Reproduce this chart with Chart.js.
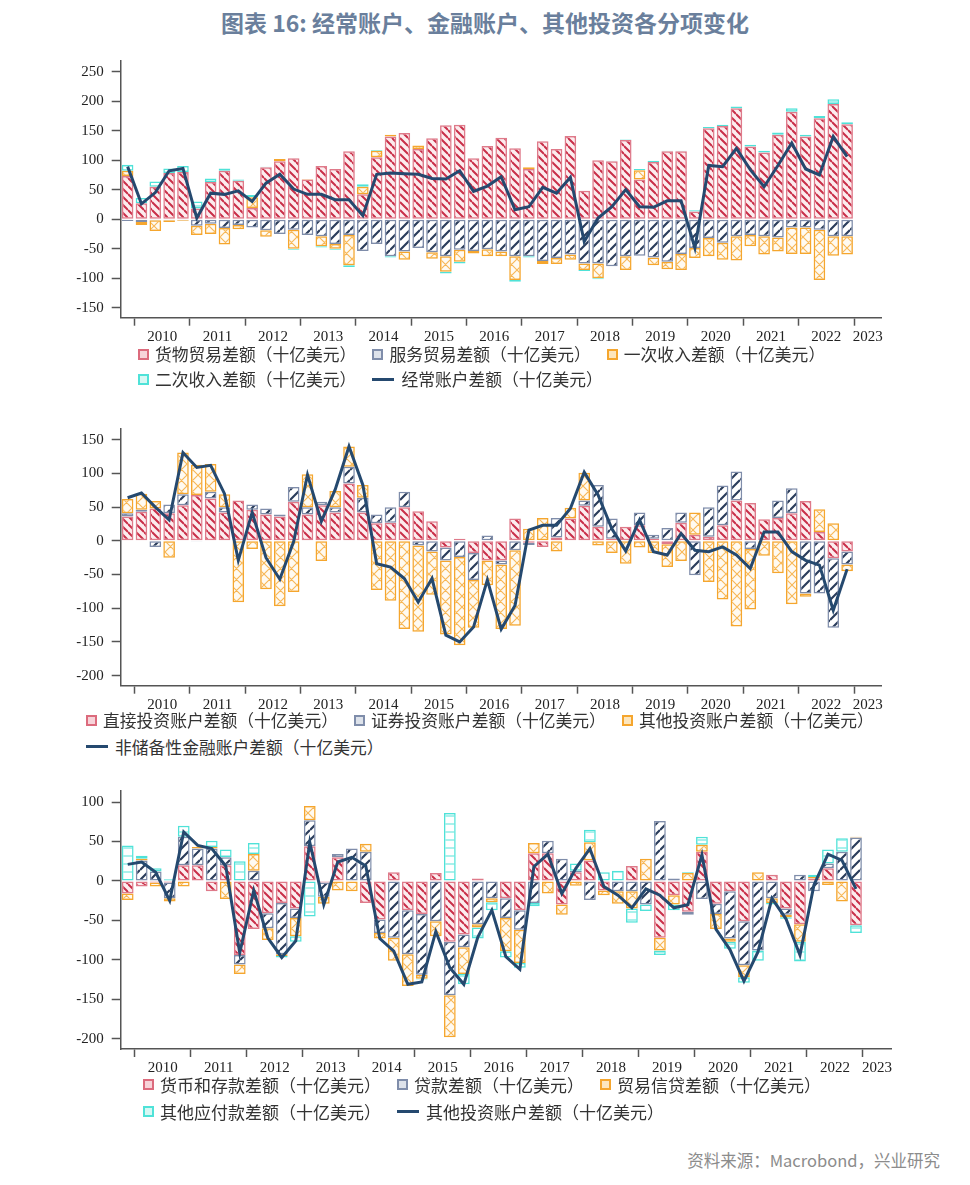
<!DOCTYPE html>
<html>
<head>
<meta charset="utf-8">
<script src="https://cdn.jsdelivr.net/npm/chart.js@4.4.0/dist/chart.umd.min.js"></script>
<style>
  body { margin: 0; width: 970px; height: 1185px; background: #fff; position: relative; overflow: hidden;
         font-family: "Noto Sans CJK SC", "Noto Sans", sans-serif; }
  #title { position: absolute; left: 0; width: 970px; top: 5px; text-align: center;
           font-size: 23px; font-weight: bold; color: #6a7f9c; }
  canvas { position: absolute; left: 0; }
  .legend-row { position: absolute; display: flex; align-items: center; height: 24px;
                font-size: 16.8px; color: #333; white-space: nowrap; }
  .item { display: flex; align-items: center; margin-right: 16px; }
  .sw { width: 11px; height: 11px; box-sizing: border-box; border: 2.5px solid; margin-right: 6px; }
  .ln { width: 22px; height: 3px; margin-right: 7px; }
  #source { position: absolute; right: 30px; top: 1148px; font-size: 16.5px; color: #8c8c8c; }
</style>
</head>
<body>
<div id="title">图表 16: 经常账户、金融账户、其他投资各分项变化</div>
<canvas id="c1" width="970" height="310" style="top:50px"></canvas>
<canvas id="c2" width="970" height="310" style="top:420px"></canvas>
<canvas id="c3" width="970" height="312" style="top:780px"></canvas>
<div id="legends"></div>
<div id="source">资料来源：Macrobond，兴业研究</div>

<script>
// 季度（2009Q4 - 2023Q2，后两个季度无数据）
const quarters = [
  "2009Q4",
  "2010Q1","2010Q2","2010Q3","2010Q4","2011Q1","2011Q2","2011Q3","2011Q4",
  "2012Q1","2012Q2","2012Q3","2012Q4","2013Q1","2013Q2","2013Q3","2013Q4",
  "2014Q1","2014Q2","2014Q3","2014Q4","2015Q1","2015Q2","2015Q3","2015Q4",
  "2016Q1","2016Q2","2016Q3","2016Q4","2017Q1","2017Q2","2017Q3","2017Q4",
  "2018Q1","2018Q2","2018Q3","2018Q4","2019Q1","2019Q2","2019Q3","2019Q4",
  "2020Q1","2020Q2","2020Q3","2020Q4","2021Q1","2021Q2","2021Q3","2021Q4",
  "2022Q1","2022Q2","2022Q3","2022Q4","2023Q1","2023Q2"
];
const yearTicks = ["2010","2011","2012","2013","2014","2015","2016","2017","2018","2019","2020","2021","2022","2023"];

// === 图1：经常账户 ===
const goodsBal = [73,27,55,78,80,18,63,82,65,19, 88,98,103,67,90,85,115,42,105,140,
  146,119,137,159,160,103,124,138,120,85, 132,119,141,48,100,98,134,67,97,115,
  115,13,154,158,188,123,113,143,182,140, 171,195,161];
const servicesBal = [-3,-5,-2,-2,-2,-11,-8,-15,-10,-14, -19,-25,-18,-27,-29,-42,-27,-54,-42,-63,
  -55,-49,-56,-63,-52,-54,-51,-55,-63,-63, -71,-66,-60,-75,-75,-80,-63,-62,-65,-72,
  -59,-49,-32,-40,-29,-27,-29,-31,-14,-14, -18,-29,-29];
const primaryInc = [9,-5,-18,-3,-1,-16,-17,-28,-7,18, -11,4,-32,1,-17,-8,-51,13,11,3,
  -14,6,-11,-26,-20,-4,-12,-8,-40,3, -5,-10,-9,-11,-25,0,-23,16,-13,-13,
  -27,-17,-31,-29,-41,-19,-31,-24,-45,-45, -85,-33,-31];
const secondaryInc = [10,9,9,8,10,12,6,4,2,4, 1,0,-2,0,-2,-2,-3,4,1,-2,
  0,0,0,-3,-3,0,0,0,-3,-2, 0,0,0,-2,-2,1,1,2,2,1,
  1,2,2,2,3,3,3,4,6,3, 4,8,3];
const currentAcct = [89,26,45,82,86,2,44,42,48,30, 61,76,51,42,42,33,33,6,76,78,
  77,76,69,68,82,47,56,72,16,21, 54,44,71,-38,2,21,50,21,20,31,
  31,-49,91,89,120,84,55,91,129,85, 75,140,106];
const yTicks1 = [-150,-100,-50,0,50,100,150,200,250];

// === 图2：金融账户 ===
const directInv = [36,43,48,41,53,68,63,42,60,46, 39,36,58,39,53,42,85,42,26,27,
  50,44,29,-10,3,-18,-29,-29,33,-3, -9,5,33,52,21,3,21,23,3,-5,
  27,9,6,23,60,56,32,34,41,59, 13,-26,-16];
const portfolioInv = [5,3,-9,13,16,-1,10,8,0,8, 9,3,22,11,5,8,25,22,13,23,
  23,-7,-16,-19,-24,-40,8,-6,-14,-3, 0,29,0,8,62,30,0,19,6,19,
  15,-51,44,59,43,-12,0,26,37,-78, -78,-103,-19];
const otherInv = [21,24,11,-25,62,45,41,19,-91,-12, -72,-97,-76,49,-30,24,30,19,-73,-89,
  -131,-128,-64,-110,-131,-71,-37,-96,-112,18, 34,-16,16,41,-7,-18,-34,-10,-18,-34,
  -30,33,-61,-87,-127,-90,-22,-48,-94,-5, 34,26,-10];
const finAcct = [64,71,50,31,131,109,112,70,-29,42, -25,-57,-1,98,29,76,140,83,-34,-39,
  -56,-91,-56,-140,-150,-128,-58,-131,-96,16, 23,23,48,102,68,18,-15,31,-16,-21,
  11,-14,-16,-9,-21,-41,13,13,-16,-29, -36,-103,-42];
const yTicks2 = [-200,-150,-100,-50,0,50,100,150];

// === 图3：其他投资 ===
const currDeposits = [-16,-7,-2,-2,20,20,-13,20,-94,-61, -41,-28,-35,44,-2,30,0,-28,-49,11,
  -37,-42,10,-77,-68,3,0,-22,-37,35, 35,-30,11,26,-12,0,19,0,-72,-18,
  -39,37,-29,-13,-51,0,8,-35,-55,3, 16,0,-56];
const loans = [0,26,12,-20,36,21,41,10,-12,13, -19,-65,-12,33,-18,4,41,37,-17,-72,
  -56,-77,-51,-68,-16,-55,-22,-25,-25,-28, 16,28,2,-24,0,-13,-13,-30,76,3,
  -4,-23,-13,-60,-56,-88,-22,-8,8,-13, 6,37,55];
const tradeCredit = [-8,2,-5,-4,-7,2,2,-23,-12,21, -15,-2,-23,18,-9,-12,-13,10,-7,-29,
  -40,-5,-19,-53,-34,-4,-5,-42,-42,13, -16,-13,-6,23,-6,-16,-22,28,-16,-12,
  10,9,-19,-4,-15,11,-6,-3,-22,2, -5,-26,1];
const otherPayables = [45,4,4,2,14,0,8,10,25,14, 1,-2,-7,-45,0,0,0,0,0,0,
  0,-1,0,86,-13,-14,-10,-8,-6,-4, 0,0,9,16,11,13,-18,-8,-6,-7,
  1,10,0,-9,-7,-13,-2,-2,-25,3, 18,17,-10];
const yTicks3 = [-200,-150,-100,-50,0,50,100];

// 颜色
const AXIS = "#555";
const TEXT = "#222";
const LINE_COLOR = "#25496f";
const BORDER = { red: "rgba(206,50,76,0.65)", navy: "#7f8daa", orange: "#f5a62e", cyan: "#4fe2d8" };
const SWATCH_BG = { red: "#f7d3d9", navy: "#dde2ea", orange: "#fde6bd", cyan: "#d6f8f4" };

// 年份标签位置：每年Q2（2023年为Q1），再向右偏半个季度
const yearAt = {};
yearTicks.forEach((y, k) => { yearAt[Math.min(4 * k + 2, quarters.length - 2)] = y; });

function tile(ctx, size, bg, draw) {
  const t = document.createElement("canvas");
  t.width = size; t.height = size;
  const c = t.getContext("2d");
  c.fillStyle = bg; c.fillRect(0, 0, size, size);
  draw(c, size);
  return ctx.createPattern(t, "repeat");
}

function makePatterns(ctx) {
  return {
    red: tile(ctx, 8, "rgba(245,200,207,0.35)", (c, s) => {
      c.strokeStyle = "#c92f49"; c.lineWidth = 2; c.beginPath();
      [-s, 0, s].forEach(k => { c.moveTo(0, k); c.lineTo(s, k + s); });
      c.stroke();
    }),
    navy: tile(ctx, 10, "rgba(255,255,255,0.6)", (c, s) => {
      c.strokeStyle = "#2b3d5c"; c.lineWidth = 2.2; c.beginPath();
      [0, s, 2 * s].forEach(k => { c.moveTo(0, k); c.lineTo(s, k - s); });
      c.stroke();
    }),
    orange: tile(ctx, 11, "rgba(255,240,215,0.35)", (c, s) => {
      c.strokeStyle = "rgba(245,166,46,0.8)"; c.lineWidth = 1.1; c.beginPath();
      [-s, 0, s].forEach(k => { c.moveTo(0, k); c.lineTo(s, k + s); });
      [0, s, 2 * s].forEach(k => { c.moveTo(0, k); c.lineTo(s, k - s); });
      c.stroke();
    }),
    cyan: tile(ctx, 8, "rgba(255,255,255,0.5)", (c, s) => {
      c.strokeStyle = "#6fe8df"; c.lineWidth = 1.2; c.beginPath();
      c.moveTo(0, s / 2); c.lineTo(s, s / 2);
      c.stroke();
    })
  };
}

function makeChart(id, cfg) {
  const ctx = document.getElementById(id).getContext("2d");
  const pats = makePatterns(ctx);
  const datasets = cfg.bars.map(b => ({
    type: "bar", label: b.label, data: b.data,
    backgroundColor: pats[b.kind], borderColor: BORDER[b.kind], borderWidth: 1.5,
    borderSkipped: false, stack: "s", order: 1,
    barPercentage: 0.84, categoryPercentage: 1
  }));
  datasets.push({
    type: "line", label: cfg.line.label, data: cfg.line.data,
    borderColor: LINE_COLOR, borderWidth: 3, pointRadius: 0, tension: 0,
    fill: false, stack: "line", order: 0
  });

  return new Chart(ctx, {
    data: { labels: quarters, datasets },
    options: {
      responsive: false, animation: false,
      layout: { padding: { left: 0, right: cfg.padRight, top: cfg.padTop, bottom: cfg.padBottom } },
      plugins: { legend: { display: false }, tooltip: { enabled: false } },
      scales: {
        x: {
          type: "category", offset: true, stacked: true,
          border: { display: true, color: AXIS, width: 1.5 },
          grid: {
            display: true, drawOnChartArea: false, drawTicks: true, offset: true,
            tickLength: 8, tickWidth: 1.5,
            tickColor: c => (c.index % 4 === 1 ? AXIS : "rgba(0,0,0,0)")
          },
          ticks: {
            autoSkip: false, maxRotation: 0, minRotation: 0, padding: 2,
            labelOffset: cfg.half, color: TEXT,
            font: { family: "Liberation Serif", size: 15 },
            callback: (v, i) => yearAt[i] || ""
          },
          afterFit: s => { s.height = 40; s.paddingLeft = 0; s.paddingRight = 0; }
        },
        y: {
          stacked: true, min: cfg.min, max: cfg.max,
          afterBuildTicks: s => { s.ticks = cfg.yTicks.map(v => ({ value: v })); },
          border: { display: true, color: AXIS, width: 1.5 },
          grid: { drawOnChartArea: false, tickLength: 9, tickWidth: 1.5, tickColor: AXIS },
          ticks: { padding: 8, color: TEXT, font: { family: "Liberation Serif", size: 15 } },
          afterFit: s => { s.width = 120.7; s.paddingTop = 0; s.paddingBottom = 0; }
        }
      }
    }
  });
}

// 图例（HTML）
function addLegend(rows, left, fontSize) {
  const box = document.getElementById("legends");
  rows.forEach(r => {
    const row = document.createElement("div");
    row.className = "legend-row";
    row.style.left = left + "px";
    row.style.top = (r.y - 12) + "px";
    row.style.fontSize = fontSize + "px";
    r.items.forEach(it => {
      const el = document.createElement("div");
      el.className = "item";
      if (it.kind === "line") {
        el.innerHTML = `<span class="ln" style="background:${LINE_COLOR}"></span>${it.label}`;
      } else {
        el.innerHTML = `<span class="sw" style="border-color:${BORDER[it.kind]};background:${SWATCH_BG[it.kind]}"></span>${it.label}`;
      }
      row.appendChild(el);
    });
    box.appendChild(row);
  });
}

// === 图1 ===
const bars1 = [
  { label: "货物贸易差额（十亿美元）", kind: "red", data: goodsBal },
  { label: "服务贸易差额（十亿美元）", kind: "navy", data: servicesBal },
  { label: "一次收入差额（十亿美元）", kind: "orange", data: primaryInc },
  { label: "二次收入差额（十亿美元）", kind: "cyan", data: secondaryInc }
];
const line1 = { label: "经常账户差额（十亿美元）", kind: "line", data: currentAcct };
makeChart("c1", { bars: bars1, line: line1, yTicks: yTicks1, min: -167, max: 268,
  padTop: 11, padBottom: 2.3, padRight: 88.3, half: 6.92 });
addLegend([{ y: 354, items: bars1.slice(0, 3) }, { y: 379, items: [bars1[3], line1] }], 138, 16.8);

// === 图2 ===
const bars2 = [
  { label: "直接投资账户差额（十亿美元）", kind: "red", data: directInv },
  { label: "证券投资账户差额（十亿美元）", kind: "navy", data: portfolioInv },
  { label: "其他投资账户差额（十亿美元）", kind: "orange", data: otherInv }
];
const line2 = { label: "非储备性金融账户差额（十亿美元）", kind: "line", data: finAcct };
makeChart("c2", { bars: bars2, line: line2, yTicks: yTicks2, min: -215, max: 166,
  padTop: 9, padBottom: 4.3, padRight: 88.3, half: 6.92 });
addLegend([{ y: 720, items: bars2 }, { y: 746.5, items: [line2] }], 86, 16.8);

// === 图3 ===
const bars3 = [
  { label: "货币和存款差额（十亿美元）", kind: "red", data: currDeposits },
  { label: "贷款差额（十亿美元）", kind: "navy", data: loans },
  { label: "贸易信贷差额（十亿美元）", kind: "orange", data: tradeCredit },
  { label: "其他应付款差额（十亿美元）", kind: "cyan", data: otherPayables }
];
const line3 = { label: "其他投资账户差额（十亿美元）", kind: "line", data: otherInv };
makeChart("c3", { bars: bars3, line: line3, yTicks: yTicks3, min: -213, max: 114,
  padTop: 11, padBottom: 3, padRight: 79, half: 7 });
addLegend([{ y: 1084, items: bars3.slice(0, 3) }, { y: 1111, items: [bars3[3], line3] }], 143, 17);
</script>
</body>
</html>
